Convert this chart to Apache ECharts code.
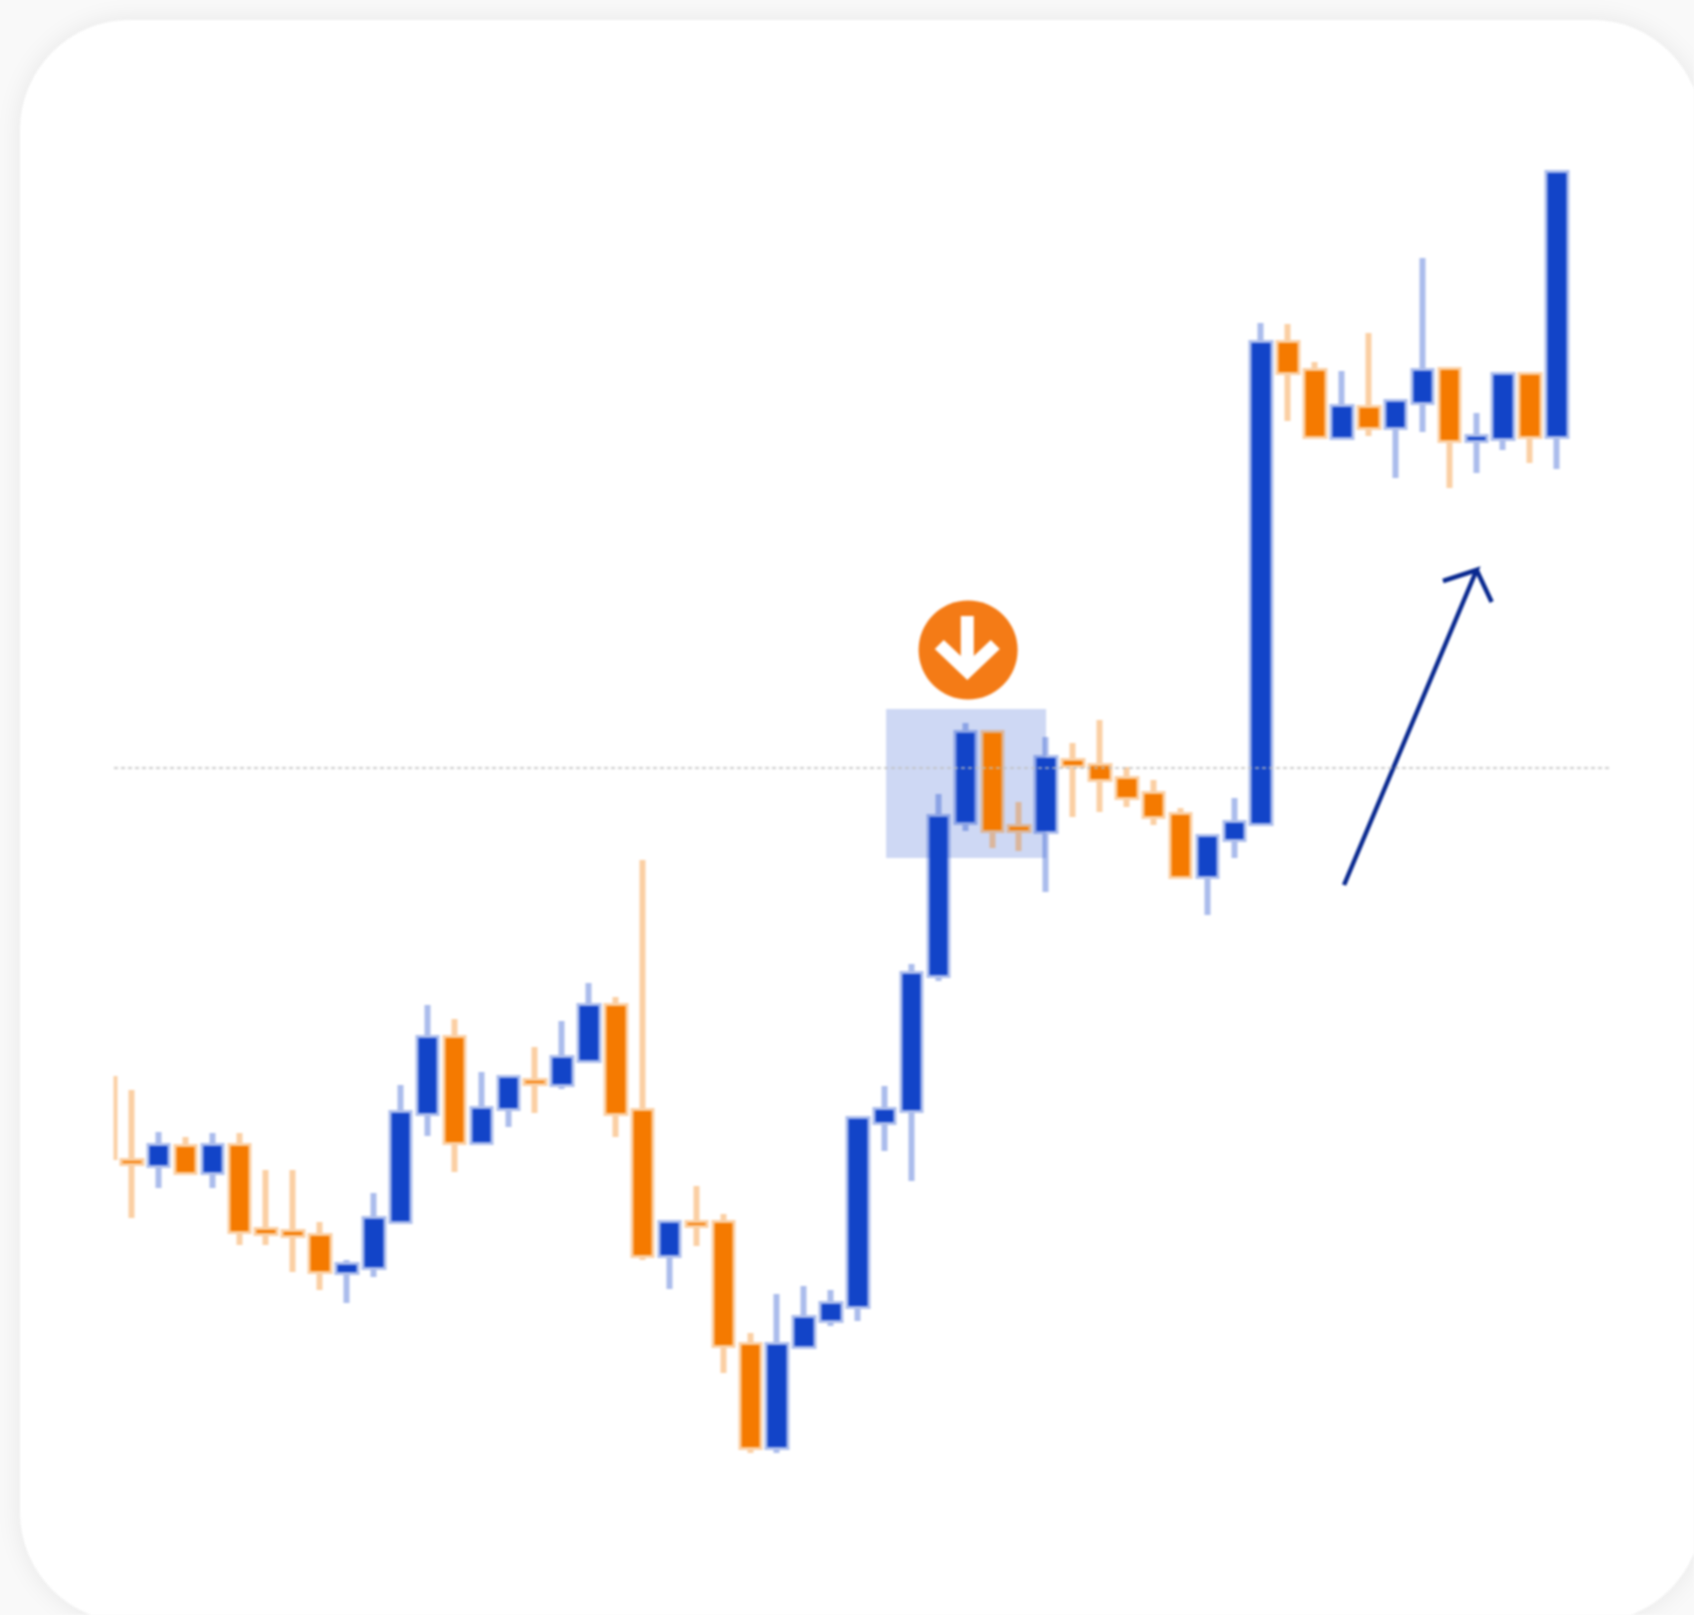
<!DOCTYPE html>
<html>
<head>
<meta charset="utf-8">
<title>Candlestick pattern</title>
<style>
html,body{margin:0;padding:0;background:#f9f9f9;}
#chart{width:1694px;height:1615px;filter:blur(1.1px);}
</style>
<script src="https://cdn.jsdelivr.net/npm/echarts@6/dist/echarts.min.js"></script>
</head>
<body>
<div id="chart"></div>
<script>
// 'U' candles close above their open, 'D' candles close below it.
const direction = ['D','D','U','D','U','D','D','D','D','U','U','U','U','D','U','U','D','U','U','D','D','U','D','D','D','U','U','U','U','U','U','U','U','D','D','U','D','D','D','D','D','U','U','U','D','D','U','D','U','U','D','U','U','D','U'];
const bodyTop = [53.9,45.4,46.9,46.8,46.9,46.9,38.5,38.3,37.9,35.0,39.6,50.2,57.7,57.7,50.6,53.7,53.4,55.7,60.9,60.9,50.4,39.2,39.2,39.2,27.0,27.0,29.7,31.1,49.6,50.5,64.1,79.8,88.2,88.2,78.8,85.7,85.4,84.9,83.6,82.1,80.0,77.8,79.2,127.2,127.2,124.4,120.8,120.7,121.3,124.4,124.5,117.8,124.0,124.0,144.2];
const bodyBottom = [45.5,45.2,45.0,44.3,44.3,38.4,38.2,38.0,34.4,34.3,34.8,39.4,50.2,47.3,47.3,50.7,53.2,53.1,55.5,50.2,36.0,36.0,39.0,27.0,16.8,16.8,26.9,29.5,30.9,49.3,50.5,64.0,79.3,78.5,78.5,78.4,85.0,83.6,81.8,79.9,73.9,73.9,77.6,79.2,124.3,117.9,117.8,118.8,118.8,121.3,117.5,117.5,117.7,117.9,117.9];
const highs = [53.9,52.5,48.3,47.8,48.2,48.2,44.5,44.5,39.3,35.5,42.2,53.0,61.0,59.6,54.3,53.7,56.8,59.4,63.2,61.8,75.5,39.2,42.9,40.1,28.2,32.1,32.9,32.5,49.6,52.9,65.1,82.1,89.2,88.2,81.3,87.8,87.2,89.5,84.8,83.5,80.7,77.8,81.7,129.2,129.1,125.3,124.4,128.2,121.3,135.7,124.8,120.2,124.0,124.3,144.2];
const lows = [45.5,39.7,42.7,44.3,42.7,37.0,37.0,34.3,32.5,31.2,33.8,39.4,47.9,44.3,47.3,48.8,50.2,52.6,55.5,47.8,35.5,32.6,36.9,24.2,16.2,16.2,26.9,28.9,29.4,46.4,43.4,63.4,78.4,76.7,76.4,72.3,79.8,80.3,80.8,79.0,73.9,70.0,75.7,79.2,119.4,117.9,117.8,117.9,113.7,118.3,112.7,114.2,116.5,115.2,114.6];
// The first candle is cut by the left edge of the plot: only a sliver of it shows.
const firstCandleVisibleX = 0.39;
const referenceLevel = 84.7;
const highlightX = [29.05, 35.0];
const highlightY = [75.7, 90.6];
const signalPoint = [32.1, 96.5];
const signalArrowPoint = [32.07, 96.7];
const trendArrowX = [46.08, 51.01, 49.76, 51.01, 51.57];
const trendArrowY = [73.0, 104.5, 103.4, 104.5, 101.3];

const BLUE = '#1244C8', ORANGE = '#F57A00';
const BLUE_EDGE = 'rgba(22,70,201,0.36)', ORANGE_EDGE = 'rgba(245,123,0,0.36)';

function candle(i, x) {
  const up = direction[i] === 'U';
  return [x, up ? bodyBottom[i] : bodyTop[i], up ? bodyTop[i] : bodyBottom[i], lows[i], highs[i]];
}
const candleData = direction.map((d, i) => candle(i, i)).slice(1);
const candleStyle = {color: BLUE, color0: ORANGE, borderColor: BLUE_EDGE, borderColor0: ORANGE_EDGE, borderWidth: 6};

const chart = echarts.init(document.getElementById('chart'), null, {renderer: 'canvas'});
chart.setOption({
  animation: false,
  backgroundColor: 'transparent',
  grid: {left: 114, right: 84, top: 0, bottom: 0, containLabel: false},
  xAxis: {type: 'value', min: 0.3385, max: 55.97, show: false, splitLine: {show: false}},
  yAxis: {type: 'value', min: 0, max: 161.5, show: false, splitLine: {show: false}},
  graphic: [{
    type: 'rect', z: -10, silent: true,
    shape: {x: 20, y: 20, width: 1682, height: 1602, r: 110},
    style: {fill: '#ffffff', shadowBlur: 26, shadowColor: 'rgba(0,0,0,0.08)'}
  }],
  series: [
    {
      type: 'line', z: 1, silent: true, data: [], symbol: 'none',
      markArea: {
        silent: true,
        itemStyle: {color: 'rgba(22,70,201,0.21)'},
        data: [[{coord: [highlightX[0], highlightY[1]]}, {coord: [highlightX[1], highlightY[0]]}]]
      },
      markLine: {
        silent: true, symbol: 'none', label: {show: false},
        lineStyle: {color: '#bdbdbd', type: [4, 3], width: 1.5},
        data: [{yAxis: referenceLevel}]
      }
    },
    {
      type: 'candlestick', z: 3, barWidth: 19,
      itemStyle: candleStyle,
      data: candleData
    },
    {
      type: 'candlestick', z: 3, barWidth: 1,
      itemStyle: Object.assign({}, candleStyle, {borderWidth: 4}),
      data: [candle(0, firstCandleVisibleX)]
    },
    {
      type: 'line', z: 4, silent: true, symbol: 'none',
      lineStyle: {color: '#08288F', width: 4.5, join: 'miter'},
      data: trendArrowX.map((x, i) => [x, trendArrowY[i]])
    },
    {
      type: 'scatter', z: 5, silent: true, symbol: 'circle', symbolSize: 99,
      itemStyle: {color: '#F47B16', opacity: 1},
      data: [signalPoint]
    },
    {
      type: 'scatter', z: 6, silent: true,
      symbol: 'path://M26 0L39 0L39 40L56 24L65 33L32.5 64L0 33L9 24L26 40Z',
      symbolSize: [65, 64],
      itemStyle: {color: '#ffffff', opacity: 1},
      data: [signalArrowPoint]
    }
  ]
});
</script>
</body>
</html>
